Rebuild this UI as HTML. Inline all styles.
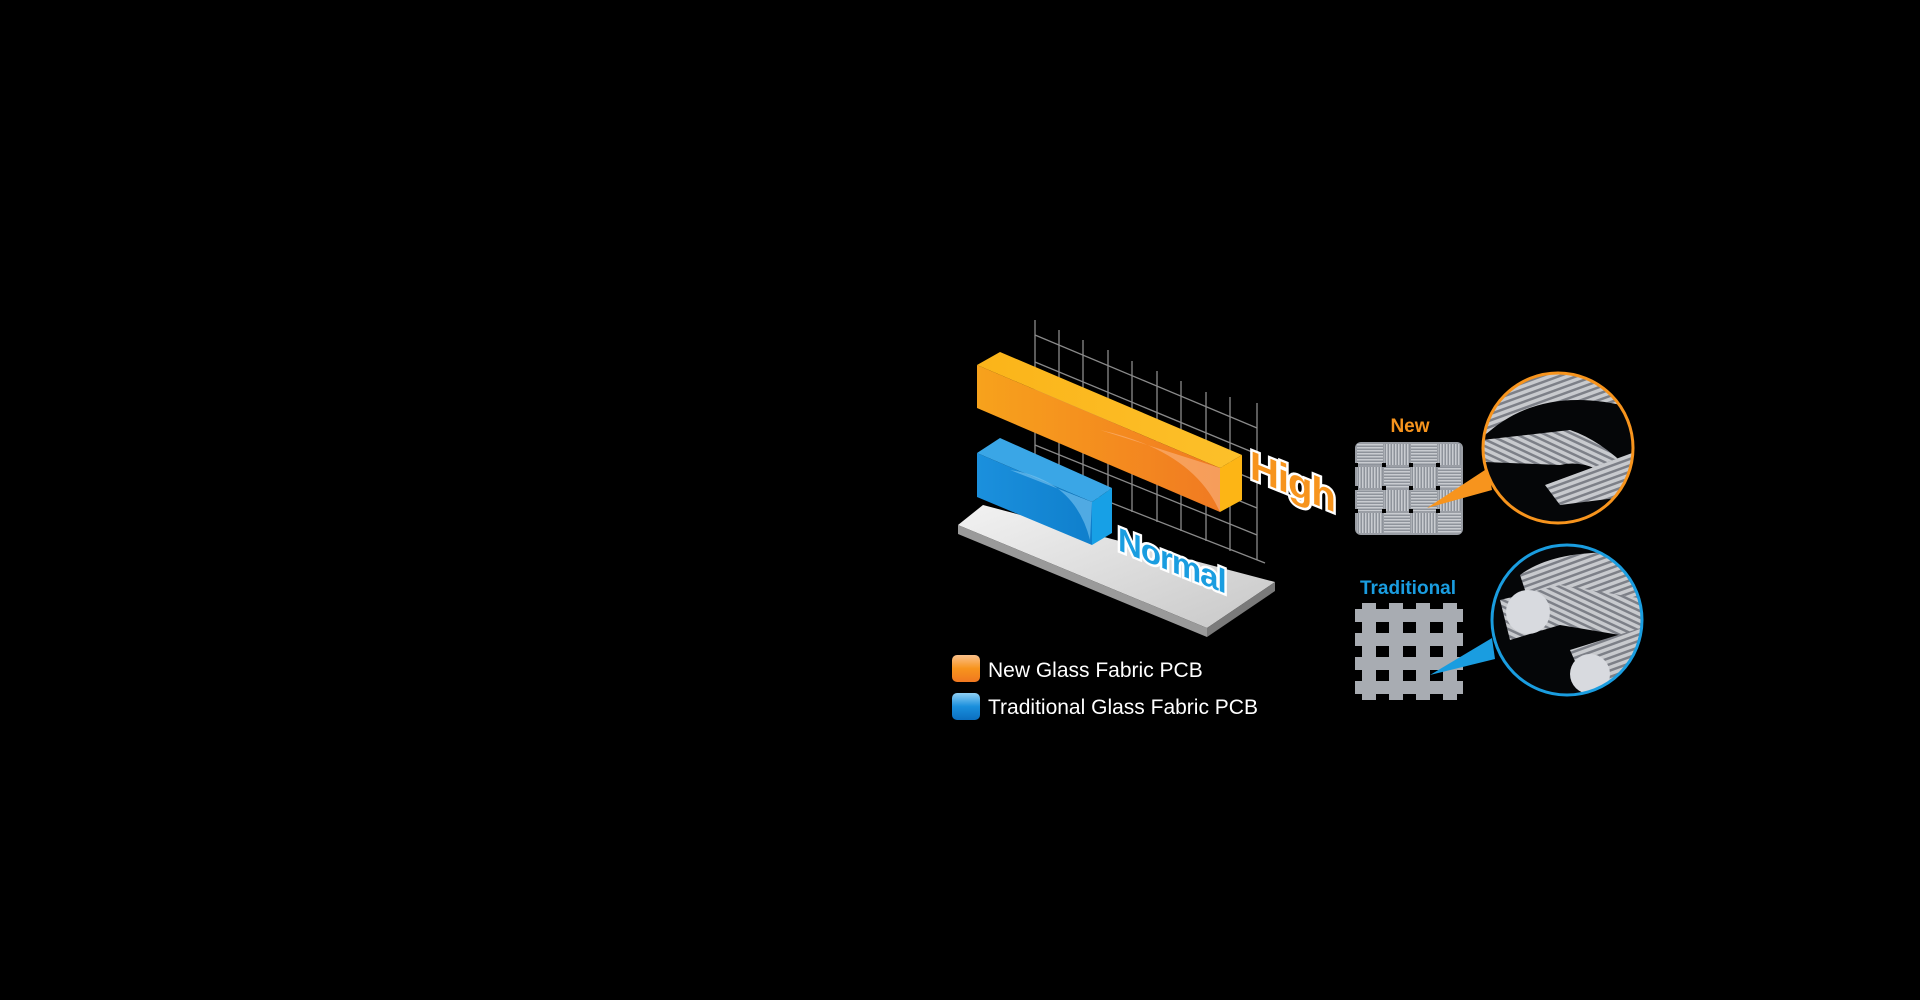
<!DOCTYPE html>
<html><head><meta charset="utf-8"><style>
html,body{margin:0;padding:0;background:#000;width:1920px;height:1000px;overflow:hidden}
svg{display:block}
</style></head><body>
<svg width="1920" height="1000" viewBox="0 0 1920 1000" xmlns="http://www.w3.org/2000/svg">
<defs>
<linearGradient id="oF" x1="0" y1="0" x2="1" y2="0"><stop offset="0" stop-color="#f7a21c"/><stop offset="0.6" stop-color="#f48a1f"/><stop offset="1" stop-color="#f07a22"/></linearGradient>
<linearGradient id="oT" x1="0" y1="0" x2="1" y2="0"><stop offset="0" stop-color="#fbb419"/><stop offset="1" stop-color="#fcc02a"/></linearGradient>
<linearGradient id="bF" x1="0" y1="0" x2="1" y2="0"><stop offset="0" stop-color="#1b90dd"/><stop offset="1" stop-color="#0f7fcc"/></linearGradient>
<linearGradient id="pl" x1="0" y1="0" x2="1" y2="1"><stop offset="0" stop-color="#f2f2f2"/><stop offset="1" stop-color="#c8c8c8"/></linearGradient>
<linearGradient id="lo" x1="0" y1="0" x2="0" y2="1"><stop offset="0" stop-color="#fbc08a"/><stop offset="0.5" stop-color="#f7941d"/><stop offset="1" stop-color="#f07820"/></linearGradient>
<linearGradient id="lb" x1="0" y1="0" x2="0" y2="1"><stop offset="0" stop-color="#8fd0f5"/><stop offset="0.5" stop-color="#1a8fdc"/><stop offset="1" stop-color="#0b6fc0"/></linearGradient>
<pattern id="hs" width="4" height="3" patternUnits="userSpaceOnUse"><rect width="4" height="3" fill="#8e939b"/><rect width="4" height="1.5" fill="#c9ccd1"/></pattern>
<pattern id="vs" width="3" height="4" patternUnits="userSpaceOnUse"><rect width="3" height="4" fill="#8e939b"/><rect width="1.5" height="4" fill="#c9ccd1"/></pattern>
<pattern id="fib" width="6" height="6" patternUnits="userSpaceOnUse" patternTransform="rotate(-20)"><rect width="6" height="6" fill="#7d8088"/><rect width="6" height="3.5" fill="#c8cace"/></pattern>
<pattern id="fib2" width="6" height="6" patternUnits="userSpaceOnUse" patternTransform="rotate(25)"><rect width="6" height="6" fill="#7d8088"/><rect width="6" height="3.5" fill="#c8cace"/></pattern>
<clipPath id="c1"><circle cx="1558" cy="448" r="74"/></clipPath>
<clipPath id="c2"><circle cx="1567" cy="620" r="74"/></clipPath>
</defs>

<g stroke="#8a8a8a" stroke-width="1.3" fill="none">
<line x1="1035" y1="320" x2="1035" y2="473"/>
<line x1="1059" y1="330" x2="1059" y2="483"/>
<line x1="1083" y1="340" x2="1083" y2="492"/>
<line x1="1108" y1="350" x2="1108" y2="502"/>
<line x1="1132" y1="361" x2="1132" y2="512"/>
<line x1="1157" y1="371" x2="1157" y2="522"/>
<line x1="1181" y1="381" x2="1181" y2="531"/>
<line x1="1206" y1="392" x2="1206" y2="541"/>
<line x1="1230" y1="397" x2="1230" y2="551"/>
<line x1="1257" y1="403" x2="1257" y2="560"/>
<line x1="1035" y1="335" x2="1257" y2="428"/>
<line x1="1035" y1="362" x2="1257" y2="454"/>
<line x1="1035" y1="390" x2="1257" y2="481"/>
<line x1="1035" y1="417" x2="1257" y2="508"/>
<line x1="1035" y1="445" x2="1257" y2="535"/>
<line x1="1035" y1="473" x2="1265" y2="563"/>
</g>

<polygon points="958,525 983,505 1275,582 1207,628" fill="url(#pl)"/>
<polygon points="958,525 1207,628 1207,637 958,534" fill="#9a9a9a"/>
<polygon points="1207,628 1275,582 1275,591 1207,637" fill="#7a7a7a"/>

<polygon points="977,365 1000,352 1242,455 1220,468" fill="url(#oT)"/>
<polygon points="977,365 1220,468 1220,512 977,408" fill="url(#oF)"/>
<path d="M1100,430 Q1190,450 1218,508 L1220,512 L1220,468 Z" fill="#fbb98a" opacity="0.55"/>
<polygon points="1220,468 1242,455 1242,500 1220,512" fill="#fdb515"/>

<polygon points="977,453 1000,438 1112,488 1092,502" fill="#3aa6e6"/>
<polygon points="977,453 1092,502 1092,545 977,497" fill="url(#bF)"/>
<path d="M1010,470 Q1075,480 1090,540 L1092,502 Z" fill="#7cc6f2" opacity="0.6"/>
<polygon points="1092,502 1112,488 1112,533 1092,545" fill="#17a0e6"/>

<text x="0" y="0" transform="translate(1250,478) skewY(22)" font-family="Liberation Sans, sans-serif" font-weight="bold" font-size="40" fill="#f7941d" stroke="#fff" stroke-width="5" paint-order="stroke" letter-spacing="-1">High</text>
<text x="0" y="0" transform="translate(1118,550) skewY(22)" font-family="Liberation Sans, sans-serif" font-weight="bold" font-size="33" fill="#1a9de0" stroke="#fff" stroke-width="5" paint-order="stroke" letter-spacing="-1">Normal</text>

<rect x="952" y="655" width="28" height="27" rx="5" fill="url(#lo)"/>
<rect x="952" y="693" width="28" height="27" rx="5" fill="url(#lb)"/>
<text x="988" y="677" font-family="Liberation Sans, sans-serif" font-size="21" fill="#fff">New Glass Fabric PCB</text>
<text x="988" y="714" font-family="Liberation Sans, sans-serif" font-size="21" fill="#fff">Traditional Glass Fabric PCB</text>

<text x="1410" y="432" text-anchor="middle" font-family="Liberation Sans, sans-serif" font-weight="bold" font-size="19" fill="#f7941d">New</text>
<rect x="1355" y="442" width="108" height="93" rx="6" fill="#9a9ea5"/>
<g>
<rect x="1357" y="444" width="26" height="21" fill="url(#hs)"/><rect x="1384" y="444" width="26" height="21" fill="url(#vs)"/><rect x="1411" y="444" width="26" height="21" fill="url(#hs)"/><rect x="1438" y="444" width="23" height="21" fill="url(#vs)"/>
<rect x="1357" y="467" width="26" height="21" fill="url(#vs)"/><rect x="1384" y="467" width="26" height="21" fill="url(#hs)"/><rect x="1411" y="467" width="26" height="21" fill="url(#vs)"/><rect x="1438" y="467" width="23" height="21" fill="url(#hs)"/>
<rect x="1357" y="490" width="26" height="21" fill="url(#hs)"/><rect x="1384" y="490" width="26" height="21" fill="url(#vs)"/><rect x="1411" y="490" width="26" height="21" fill="url(#hs)"/><rect x="1438" y="490" width="23" height="21" fill="url(#vs)"/>
<rect x="1357" y="513" width="26" height="20" fill="url(#vs)"/><rect x="1384" y="513" width="26" height="20" fill="url(#hs)"/><rect x="1411" y="513" width="26" height="20" fill="url(#vs)"/><rect x="1438" y="513" width="23" height="20" fill="url(#hs)"/>
</g>
<g fill="#000"><rect x="1382" y="463" width="4" height="4"/><rect x="1409" y="463" width="4" height="4"/><rect x="1436" y="463" width="4" height="4"/><rect x="1382" y="486" width="4" height="4"/><rect x="1409" y="486" width="4" height="4"/><rect x="1436" y="486" width="4" height="4"/><rect x="1382" y="509" width="4" height="4"/><rect x="1409" y="509" width="4" height="4"/><rect x="1436" y="509" width="4" height="4"/><rect x="1355" y="463" width="3" height="4"/><rect x="1355" y="486" width="3" height="4"/><rect x="1355" y="509" width="3" height="4"/></g>
<polygon points="1427,508 1488,468 1492,490" fill="#f7941d"/>
<circle cx="1558" cy="448" r="74" fill="#050608"/>
<g clip-path="url(#c1)">
<path d="M1480,440 Q1540,380 1640,410 L1640,360 L1480,360 Z" fill="url(#fib)"/>
<path d="M1482,440 L1570,430 Q1600,440 1630,470 L1620,485 Q1590,458 1560,465 L1485,462 Z" fill="url(#fib2)"/>
<path d="M1545,485 L1640,450 L1640,495 L1560,505 Z" fill="url(#fib)"/>
</g>
<circle cx="1558" cy="448" r="75" fill="none" stroke="#f7941d" stroke-width="3"/>

<text x="1408" y="594" text-anchor="middle" font-family="Liberation Sans, sans-serif" font-weight="bold" font-size="19" fill="#1a9de0">Traditional</text>
<g fill="#a8acb2">
<rect x="1362" y="603" width="14" height="97"/><rect x="1389" y="603" width="14" height="97"/><rect x="1416" y="603" width="14" height="97"/><rect x="1443" y="603" width="14" height="97"/>
<rect x="1355" y="609" width="108" height="13"/><rect x="1355" y="633" width="108" height="13"/><rect x="1355" y="657" width="108" height="13"/><rect x="1355" y="681" width="108" height="13"/>
</g>
<polygon points="1430,675 1492,638 1495,659" fill="#1a9de0"/>
<circle cx="1567" cy="620" r="74" fill="#050608"/>
<g clip-path="url(#c2)">
<path d="M1520,575 Q1560,545 1650,555 L1650,600 Q1580,590 1530,605 Z" fill="url(#fib)"/>
<path d="M1500,600 L1560,585 L1650,600 L1650,640 L1560,625 L1510,640 Z" fill="url(#fib2)"/>
<circle cx="1528" cy="612" r="22" fill="#d8dadf"/>
<path d="M1570,650 L1650,625 L1650,675 L1590,695 Z" fill="url(#fib)"/>
<circle cx="1590" cy="674" r="20" fill="#d8dadf"/>
</g>
<circle cx="1567" cy="620" r="75" fill="none" stroke="#1a9de0" stroke-width="3"/>
</svg>
</body></html>
